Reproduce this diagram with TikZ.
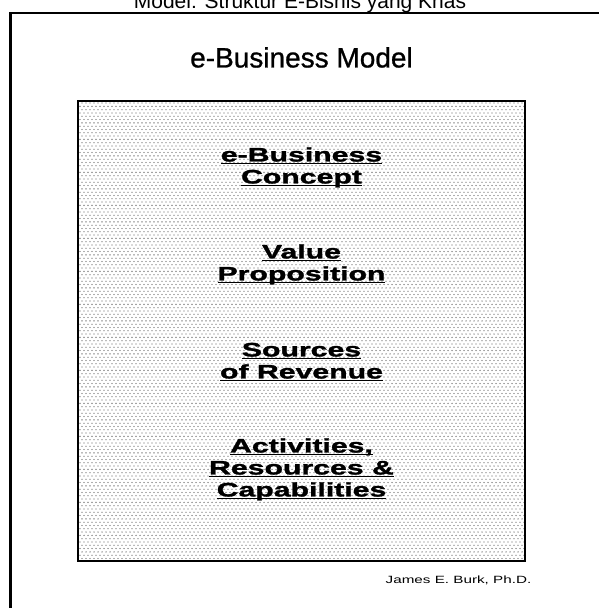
\documentclass[tikz,border=0pt]{standalone}
\usepackage{fontspec}
\setmainfont{Liberation Sans}
\newfontfamily\layerfont{Liberation Sans Bold}[FakeStretch=1.55, FakeBold=1.6]
\newfontfamily\headfont{Liberation Sans}[FakeBold=0.9]
\newfontfamily\signfont{Liberation Sans}[FakeStretch=1.45]
\usetikzlibrary{positioning,patterns}
\definecolor{DotGray}{HTML}{5E5E5E}
\pgfdeclarepatternformonly{fine dots}{\pgfqpoint{-1pt}{-1pt}}{\pgfqpoint{3pt}{5pt}}{\pgfqpoint{4pt}{6.6pt}}{%
  \pgfpathcircle{\pgfqpoint{0pt}{0pt}}{.65pt}%
  \pgfpathcircle{\pgfqpoint{2pt}{3.3pt}}{.65pt}%
  \pgfusepath{fill}}
\newcommand\ulline[1]{\underline{\smash{#1}}}

\begin{document}
\begin{tikzpicture}[x=1pt, y=-1pt,
  panel/.style={draw=black, line width=1.5pt, pattern=fine dots, pattern color=DotGray,
    minimum width=447pt, minimum height=460pt, inner sep=0pt},
  layer/.style={anchor=north, align=center, inner sep=0pt,
    font=\layerfont\fontsize{19.5}{22}\selectfont}
]
\useasboundingbox (0,0) rectangle (598,608);

\begin{scope}
\clip (0,0) rectangle (598,608);
\node[anchor=base, font=\fontsize{21}{24}\selectfont] (caption) at (300,8) {Model: Struktur E-Bisnis yang Khas};
\end{scope}

\draw[line width=2.5pt] (10.5,620) -- (10.5,13) -- (610,13);

\node[panel] (model) at (301.5,331) {};

\node[font=\headfont\fontsize{28}{32}\selectfont, above=29pt of model.north] (title) {e-Business Model};

\node[layer, below=61pt of model.north] (concept) {\ulline{e-Business}\\ \ulline{Concept}};
\node[layer, below=158pt of model.north] (value) {\ulline{Value}\\ \ulline{Proposition}};
\node[layer, below=256pt of model.north] (revenue) {\ulline{Sources}\\ \ulline{of Revenue}};
\node[layer, below=352pt of model.north] (activities) {\ulline{Activities,}\\ \ulline{Resources \&}\\ \ulline{Capabilities}};

\node[anchor=base, font=\signfont\fontsize{10.5}{12}\selectfont] (author) at (458.5,583) {James E. Burk, Ph.D.};

\end{tikzpicture}
\end{document}
